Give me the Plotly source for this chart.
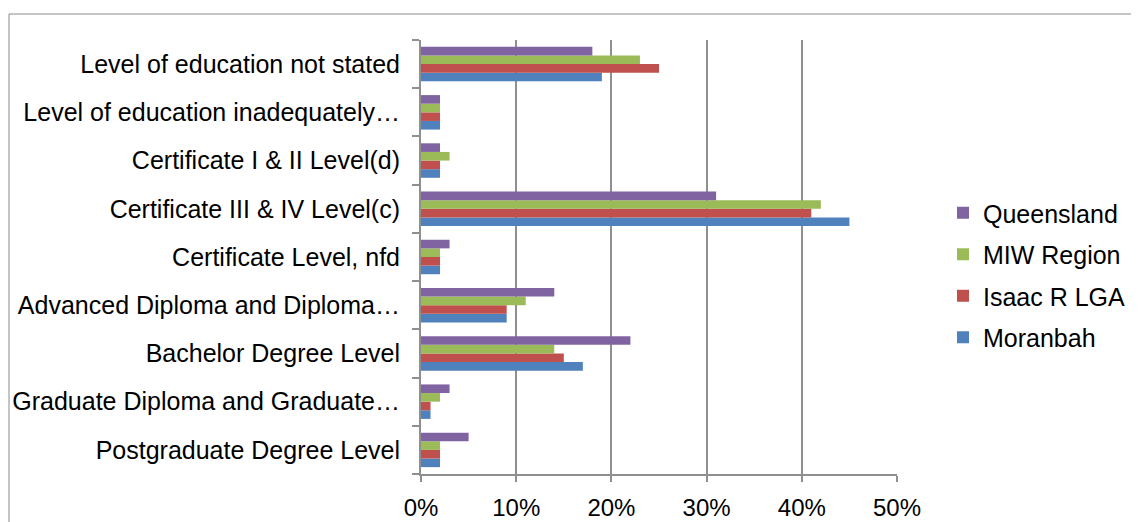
import plotly.graph_objects as go

categories = [
    "Postgraduate Degree Level",
    "Graduate Diploma and Graduate…",
    "Bachelor Degree Level",
    "Advanced Diploma and Diploma…",
    "Certificate Level, nfd",
    "Certificate III & IV Level(c)",
    "Certificate I & II Level(d)",
    "Level of education inadequately…",
    "Level of education not stated",
]

moranbah = [2, 1, 17, 9, 2, 45, 2, 2, 19]
isaac = [2, 1, 15, 9, 2, 41, 2, 2, 25]
miw = [2, 2, 14, 11, 2, 42, 3, 2, 23]
queensland = [5, 3, 22, 14, 3, 31, 2, 2, 18]

series = [
    ("Moranbah", moranbah, "#4F81BD", 4),
    ("Isaac R LGA", isaac, "#C0504D", 3),
    ("MIW Region", miw, "#9BBB59", 2),
    ("Queensland", queensland, "#8064A2", 1),
]

FONT = "Liberation Sans, Arial, sans-serif"
GRID = "#8f8f8f"

fig = go.Figure()
for name, vals, color, rank in series:
    fig.add_trace(go.Bar(
        y=categories, x=[v / 100 for v in vals], name=name, orientation="h",
        marker=dict(color=color, line=dict(width=0)), legendgroup=name,
        legendrank=rank,
    ))

fig.update_layout(
    width=1139, height=522,
    paper_bgcolor="white", plot_bgcolor="white",
    margin=dict(l=413, r=250, t=32, b=56),
    barmode="group", bargap=0.285, bargroupgap=0,
    font=dict(family=FONT, size=25, color="black"),
    legend=dict(traceorder="grouped", x=1.0966, xanchor="left", y=0.4585, yanchor="middle",
                font=dict(size=25), tracegroupgap=6, bgcolor="rgba(0,0,0,0)"),
    showlegend=True,
)

fig.update_xaxes(
    range=[0, 0.5], dtick=0.1, tickformat=".0%",
    tickfont=dict(size=24),
    showgrid=True, gridcolor=GRID, gridwidth=2,
    showline=True, linecolor=GRID, linewidth=2,
    ticks="outside", ticklen=6, tickcolor=GRID, tickwidth=2,
    zeroline=False, fixedrange=True, automargin=False, ticklabelstandoff=5,
)
fig.update_yaxes(
    type="category", tickson="boundaries",
    showline=True, linecolor=GRID, linewidth=2,
    ticks="outside", ticklen=7, tickcolor=GRID, tickwidth=2,
    showgrid=False, ticklabelstandoff=14, automargin=False,
)

# outer chart border
fig.add_shape(type="rect", xref="paper", yref="paper",
              x0=(9 - 421) / 476, x1=(1150 - 421) / 476,
              y0=(474 - 540) / 434, y1=(474 - 14) / 434,
              line=dict(color="#8a8a8a", width=1), layer="below")

fig.write_html("out.html")
